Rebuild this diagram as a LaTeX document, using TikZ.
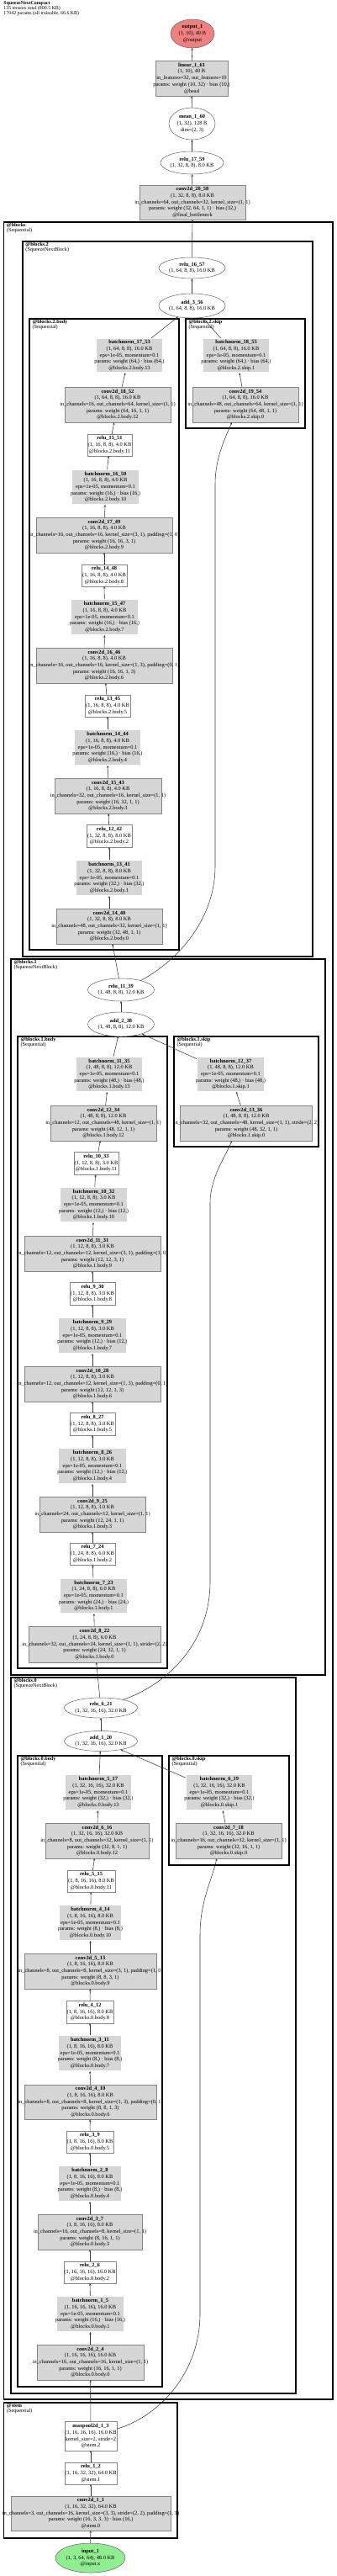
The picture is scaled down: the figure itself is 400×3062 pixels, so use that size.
\documentclass[tikz,border=0pt]{standalone}
\usepackage{fontspec}
\setmainfont{Liberation Serif}
\usetikzlibrary{shapes.geometric,arrows.meta,calc}
\definecolor{fgray}{HTML}{D6D6D6}
\definecolor{bgray}{HTML}{858585}
\definecolor{egray}{HTML}{3A3A3A}
\definecolor{ogray}{HTML}{606060}
\definecolor{outred}{HTML}{F08080}
\definecolor{ingreen}{HTML}{90EE90}
\newcommand\nodefont{\fontsize{6.4}{7.7}\selectfont}
\newcommand\clusterfont{\fontsize{6.2}{6.1}\selectfont}
\newcommand\headfont{\fontsize{5.9}{5.8}\selectfont}
\newcommand\zline[1]{\makebox[0pt]{#1}}
\newcommand\fivel[5]{\zline{\textbf{#1}}\\\zline{#2}\\\zline{#3}\\\zline{#4}\\\zline{#5}}
\newcommand\fourl[4]{\zline{\textbf{#1}}\\\zline{#2}\\\zline{#3}\\\zline{#4}}
\newcommand\threel[3]{\zline{\textbf{#1}}\\\zline{#2}\\\zline{#3}}
\newcommand\twol[2]{\zline{\textbf{#1}}\\\zline{#2}}
\newcommand\bnt[4]{\fivel{#1}{#2}{eps=1e-05, momentum=0.1}{params: weight #3 · bias #3}{#4}}
\tikzset{
  every node/.style={inner sep=0pt, outer sep=0pt, font=\nodefont, align=center},
  sz/.style 2 args={minimum width=#1, minimum height=#2},
  conv/.style={rectangle, draw=bgray, fill=fgray, line width=0.6pt},
  bn/.style={rectangle, draw=bgray, double=white, double distance=1.2pt, line width=0.5pt, fill=fgray},
  act/.style={rectangle, draw=bgray, fill=white, line width=0.6pt},
  oval/.style={ellipse, draw=ogray, fill=white, line width=0.5pt},
  cluster/.style={draw=black, line width=1.3pt},
  edge/.style={draw=egray, line width=0.55pt, -{Stealth[length=2.8pt,width=2.3pt]}},
  clabel/.style={anchor=north west, align=left, font=\clusterfont},
}
\begin{document}
\begin{tikzpicture}[x=1pt,y=-1pt]
\useasboundingbox (0,0) rectangle (400,3062);
\fill[white] (0,0) rectangle (400,3062);
% header
\node[anchor=north west, align=left, font=\headfont] (hdr) at (4.5,1.5) {\textbf{SqueezeNextCompact}\\135 tensors total (800.5 KB)\\17042 params (all trainable, 66.6 KB)};
% clusters
\draw[cluster] (4.5,264) rectangle (396,2852);
\node[clabel] (lblocks) at (8,265.5) {\textbf{@blocks}\\(Sequential)};
\draw[cluster] (27,287) rectangle (372,1137);
\node[clabel] (lb2) at (30.5,288.5) {\textbf{@blocks.2}\\(SqueezeNextBlock)};
\draw[cluster] (35,379) rectangle (213,1129);
\node[clabel] (lb2b) at (38.5,380.5) {\textbf{@blocks.2.body}\\(Sequential)};
\draw[cluster] (221,379) rectangle (363,509);
\node[clabel] (lb2s) at (224.5,380.5) {\textbf{@blocks.2.skip}\\(Sequential)};
\draw[cluster] (13,1140) rectangle (387,1991);
\node[clabel] (lb1) at (16.5,1141.5) {\textbf{@blocks.1}\\(SqueezeNextBlock)};
\draw[cluster] (21,1232) rectangle (199,1983);
\node[clabel] (lb1b) at (24.5,1233.5) {\textbf{@blocks.1.body}\\(Sequential)};
\draw[cluster] (207,1232) rectangle (379,1363);
\node[clabel] (lb1s) at (210.5,1233.5) {\textbf{@blocks.1.skip}\\(Sequential)};
\draw[cluster] (13,1994) rectangle (352,2845);
\node[clabel] (lb0) at (16.5,1995.5) {\textbf{@blocks.0}\\(SqueezeNextBlock)};
\draw[cluster] (21,2087) rectangle (193,2837);
\node[clabel] (lb0b) at (24.5,2088.5) {\textbf{@blocks.0.body}\\(Sequential)};
\draw[cluster] (201,2087) rectangle (344,2217);
\node[clabel] (lb0s) at (204.5,2088.5) {\textbf{@blocks.0.skip}\\(Sequential)};
\draw[cluster] (4.5,2856) rectangle (211,3017);
\node[clabel] (lstem) at (8,2857.5) {\textbf{@stem}\\(Sequential)};
% head
\node[oval, fill=outred, sz={52}{34}] (out1) at (229,40) {\threel{output\_1}{(1, 10), 40 B}{@output}};
\node[conv, sz={86}{42}] (lin161) at (228,93) {\fivel{linear\_1\_61}{(1, 10), 40 B}{in\_features=32, out\_features=10}{params: weight (10, 32) · bias (10,)}{@head}};
\node[oval, sz={55}{38}] (mean160) at (228.5,147) {\threel{mean\_1\_60}{(1, 32), 128 B}{dim=(2, 3)}};
\node[oval, sz={75}{27}] (r1759) at (228.5,193.5) {\twol{relu\_17\_59}{(1, 32, 8, 8), 8.0 KB}};
\node[conv, sz={126}{41}] (c2058) at (229,240.5) {\fivel{conv2d\_20\_58}{(1, 32, 8, 8), 8.0 KB}{in\_channels=64, out\_channels=32, kernel\_size=(1, 1)}{params: weight (32, 64, 1, 1) · bias (32,)}{@final\_bottleneck}};
% blocks.2
\node[oval, sz={79}{25}] (r1657) at (228.5,318.5) {\twol{relu\_16\_57}{(1, 64, 8, 8), 16.0 KB}};
\node[oval, sz={79}{29}] (add356) at (228.5,363.5) {\twol{add\_3\_56}{(1, 64, 8, 8), 16.0 KB}};
\node[bn, sz={80}{41}] (bn1753) at (154,422.5) {\bnt{batchnorm\_17\_53}{(1, 64, 8, 8), 16.0 KB}{(64,)}{@blocks.2.body.13}};
\node[bn, sz={80}{41}] (bn1855) at (281,422.5) {\bnt{batchnorm\_18\_55}{(1, 64, 8, 8), 16.0 KB}{(64,)}{@blocks.2.skip.1}};
\node[conv, sz={126}{42}] (c1852) at (140,481) {\fivel{conv2d\_18\_52}{(1, 64, 8, 8), 16.0 KB}{in\_channels=16, out\_channels=64, kernel\_size=(1, 1)}{params: weight (64, 16, 1, 1)}{@blocks.2.body.12}};
\node[conv, sz={126}{42}] (c1954) at (292,481) {\fivel{conv2d\_19\_54}{(1, 64, 8, 8), 16.0 KB}{in\_channels=48, out\_channels=64, kernel\_size=(1, 1)}{params: weight (64, 48, 1, 1)}{@blocks.2.skip.0}};
\node[act, sz={53}{26}] (r1551) at (130.5,529) {\threel{relu\_15\_51}{(1, 16, 8, 8), 4.0 KB}{@blocks.2.body.11}};
\node[bn, sz={81}{42}] (bn1650) at (125.5,579) {\bnt{batchnorm\_16\_50}{(1, 16, 8, 8), 4.0 KB}{(16,)}{@blocks.2.body.10}};
\node[conv, sz={162}{42}] (c1749) at (124,636) {\fivel{conv2d\_17\_49}{(1, 16, 8, 8), 4.0 KB}{in\_channels=16, out\_channels=16, kernel\_size=(3, 1), padding=(1, 0)}{params: weight (16, 16, 3, 1)}{@blocks.2.body.9}};
\node[act, sz={54}{26}] (r1448) at (124,684) {\threel{relu\_14\_48}{(1, 16, 8, 8), 4.0 KB}{@blocks.2.body.8}};
\node[bn, sz={81}{43}] (bn1547) at (124.5,733.5) {\bnt{batchnorm\_15\_47}{(1, 16, 8, 8), 4.0 KB}{(16,)}{@blocks.2.body.7}};
\node[conv, sz={162}{42}] (c1646) at (124,791) {\fivel{conv2d\_16\_46}{(1, 16, 8, 8), 4.0 KB}{in\_channels=16, out\_channels=16, kernel\_size=(1, 3), padding=(0, 1)}{params: weight (16, 16, 1, 3)}{@blocks.2.body.6}};
\node[act, sz={54}{26}] (r1345) at (128,839) {\threel{relu\_13\_45}{(1, 16, 8, 8), 4.0 KB}{@blocks.2.body.5}};
\node[bn, sz={80}{43}] (bn1444) at (128,888.5) {\bnt{batchnorm\_14\_44}{(1, 16, 8, 8), 4.0 KB}{(16,)}{@blocks.2.body.4}};
\node[conv, sz={127}{42}] (c1543) at (128.5,946) {\fivel{conv2d\_15\_43}{(1, 16, 8, 8), 4.0 KB}{in\_channels=32, out\_channels=16, kernel\_size=(1, 1)}{params: weight (16, 32, 1, 1)}{@blocks.2.body.3}};
\node[act, sz={54}{27}] (r1242) at (130,993.5) {\threel{relu\_12\_42}{(1, 32, 8, 8), 8.0 KB}{@blocks.2.body.2}};
\node[bn, sz={80}{43}] (bn1341) at (130,1043.5) {\bnt{batchnorm\_13\_41}{(1, 32, 8, 8), 8.0 KB}{(32,)}{@blocks.2.body.1}};
\node[conv, sz={126}{42}] (c1440) at (130,1101) {\fivel{conv2d\_14\_40}{(1, 32, 8, 8), 8.0 KB}{in\_channels=48, out\_channels=32, kernel\_size=(1, 1)}{params: weight (32, 48, 1, 1)}{@blocks.2.body.0}};
% blocks.1
\node[oval, sz={79}{27}] (r1139) at (144,1176.5) {\twol{relu\_11\_39}{(1, 48, 8, 8), 12.0 KB}};
\node[oval, sz={79}{29}] (add238) at (144,1217.5) {\twol{add\_2\_38}{(1, 48, 8, 8), 12.0 KB}};
\node[bn, sz={80}{42}] (bn1135) at (130,1277) {\bnt{batchnorm\_11\_35}{(1, 48, 8, 8), 12.0 KB}{(48,)}{@blocks.1.body.13}};
\node[bn, sz={81}{42}] (bn1237) at (274.5,1277) {\bnt{batchnorm\_12\_37}{(1, 48, 8, 8), 12.0 KB}{(48,)}{@blocks.1.skip.1}};
\node[conv, sz={126}{42}] (c1234) at (123,1335) {\fivel{conv2d\_12\_34}{(1, 48, 8, 8), 12.0 KB}{in\_channels=12, out\_channels=48, kernel\_size=(1, 1)}{params: weight (48, 12, 1, 1)}{@blocks.1.body.12}};
\node[conv, sz={157}{42}] (c1336) at (293,1335) {\fivel{conv2d\_13\_36}{(1, 48, 8, 8), 12.0 KB}{in\_channels=32, out\_channels=48, kernel\_size=(1, 1), stride=(2, 2)}{params: weight (48, 32, 1, 1)}{@blocks.1.skip.0}};
\node[act, sz={53}{27}] (r1033) at (114.5,1382.5) {\threel{relu\_10\_33}{(1, 12, 8, 8), 3.0 KB}{@blocks.1.body.11}};
\node[bn, sz={81}{42}] (bn1032) at (111.5,1432) {\bnt{batchnorm\_10\_32}{(1, 12, 8, 8), 3.0 KB}{(12,)}{@blocks.1.body.10}};
\node[conv, sz={162}{42}] (c1131) at (110,1490) {\fivel{conv2d\_11\_31}{(1, 12, 8, 8), 3.0 KB}{in\_channels=12, out\_channels=12, kernel\_size=(3, 1), padding=(1, 0)}{params: weight (12, 12, 3, 1)}{@blocks.1.body.9}};
\node[act, sz={54}{27}] (r930) at (110,1537.5) {\threel{relu\_9\_30}{(1, 12, 8, 8), 3.0 KB}{@blocks.1.body.8}};
\node[bn, sz={82}{43}] (bn929) at (110,1587.5) {\bnt{batchnorm\_9\_29}{(1, 12, 8, 8), 3.0 KB}{(12,)}{@blocks.1.body.7}};
\node[conv, sz={162}{42}] (c1028) at (110,1645) {\fivel{conv2d\_10\_28}{(1, 12, 8, 8), 3.0 KB}{in\_channels=12, out\_channels=12, kernel\_size=(1, 3), padding=(0, 1)}{params: weight (12, 12, 1, 3)}{@blocks.1.body.6}};
\node[act, sz={54}{27}] (r827) at (110,1692.5) {\threel{relu\_8\_27}{(1, 12, 8, 8), 3.0 KB}{@blocks.1.body.5}};
\node[bn, sz={82}{43}] (bn826) at (110,1742.5) {\bnt{batchnorm\_8\_26}{(1, 12, 8, 8), 3.0 KB}{(12,)}{@blocks.1.body.4}};
\node[conv, sz={126}{42}] (c925) at (110,1800) {\fivel{conv2d\_9\_25}{(1, 12, 8, 8), 3.0 KB}{in\_channels=24, out\_channels=12, kernel\_size=(1, 1)}{params: weight (12, 24, 1, 1)}{@blocks.1.body.3}};
\node[act, sz={54}{26}] (r724) at (110,1847) {\threel{relu\_7\_24}{(1, 24, 8, 8), 6.0 KB}{@blocks.1.body.2}};
\node[bn, sz={81}{42}] (bn723) at (111.5,1897) {\bnt{batchnorm\_7\_23}{(1, 24, 8, 8), 6.0 KB}{(24,)}{@blocks.1.body.1}};
\node[conv, sz={157}{43}] (c822) at (112.5,1954.5) {\fivel{conv2d\_8\_22}{(1, 24, 8, 8), 6.0 KB}{in\_channels=32, out\_channels=24, kernel\_size=(1, 1), stride=(2, 2)}{params: weight (24, 32, 1, 1)}{@blocks.1.body.0}};
% blocks.0
\node[oval, sz={87}{24}] (r621) at (120,2030) {\twol{relu\_6\_21}{(1, 32, 16, 16), 32.0 KB}};
\node[oval, sz={87}{24}] (add120) at (120,2069.5) {\twol{add\_1\_20}{(1, 32, 16, 16), 32.0 KB}};
\node[bn, sz={80}{43}] (bn517) at (117,2130.5) {\bnt{batchnorm\_5\_17}{(1, 32, 16, 16), 32.0 KB}{(32,)}{@blocks.0.body.13}};
\node[bn, sz={80}{43}] (bn619) at (261,2130.5) {\bnt{batchnorm\_6\_19}{(1, 32, 16, 16), 32.0 KB}{(32,)}{@blocks.0.skip.1}};
\node[conv, sz={123}{42}] (c616) at (115.5,2188) {\fivel{conv2d\_6\_16}{(1, 32, 16, 16), 32.0 KB}{in\_channels=8, out\_channels=32, kernel\_size=(1, 1)}{params: weight (32, 8, 1, 1)}{@blocks.0.body.12}};
\node[conv, sz={126}{42}] (c718) at (272,2188) {\fivel{conv2d\_7\_18}{(1, 32, 16, 16), 32.0 KB}{in\_channels=16, out\_channels=32, kernel\_size=(1, 1)}{params: weight (32, 16, 1, 1)}{@blocks.0.skip.0}};
\node[act, sz={57}{26}] (r515) at (108.5,2236) {\threel{relu\_5\_15}{(1, 8, 16, 16), 8.0 KB}{@blocks.0.body.11}};
\node[bn, sz={75}{43}] (bn414) at (107.5,2285.5) {\bnt{batchnorm\_4\_14}{(1, 8, 16, 16), 8.0 KB}{(8,)}{@blocks.0.body.10}};
\node[conv, sz={157}{42}] (c513) at (107.5,2343) {\fivel{conv2d\_5\_13}{(1, 8, 16, 16), 8.0 KB}{in\_channels=8, out\_channels=8, kernel\_size=(3, 1), padding=(1, 0)}{params: weight (8, 8, 3, 1)}{@blocks.0.body.9}};
\node[act, sz={56}{27}] (r412) at (107,2391.5) {\threel{relu\_4\_12}{(1, 8, 16, 16), 8.0 KB}{@blocks.0.body.8}};
\node[bn, sz={76}{43}] (bn311) at (107,2440.5) {\bnt{batchnorm\_3\_11}{(1, 8, 16, 16), 8.0 KB}{(8,)}{@blocks.0.body.7}};
\node[conv, sz={157}{41}] (c410) at (107.5,2498.5) {\fivel{conv2d\_4\_10}{(1, 8, 16, 16), 8.0 KB}{in\_channels=8, out\_channels=8, kernel\_size=(1, 3), padding=(0, 1)}{params: weight (8, 8, 1, 3)}{@blocks.0.body.6}};
\node[act, sz={56}{26}] (r39) at (107,2546) {\threel{relu\_3\_9}{(1, 8, 16, 16), 8.0 KB}{@blocks.0.body.5}};
\node[bn, sz={76}{43}] (bn28) at (107,2595.5) {\bnt{batchnorm\_2\_8}{(1, 8, 16, 16), 8.0 KB}{(8,)}{@blocks.0.body.4}};
\node[conv, sz={124}{42}] (c37) at (107,2653) {\fivel{conv2d\_3\_7}{(1, 8, 16, 16), 8.0 KB}{in\_channels=16, out\_channels=8, kernel\_size=(1, 1)}{params: weight (8, 16, 1, 1)}{@blocks.0.body.3}};
\node[act, sz={62}{26}] (r26) at (107,2701) {\threel{relu\_2\_6}{(1, 16, 16, 16), 16.0 KB}{@blocks.0.body.2}};
\node[bn, sz={81}{43}] (bn15) at (107.5,2750.5) {\bnt{batchnorm\_1\_5}{(1, 16, 16, 16), 16.0 KB}{(16,)}{@blocks.0.body.1}};
\node[conv, sz={127}{42}] (c24) at (107.5,2808) {\fivel{conv2d\_2\_4}{(1, 16, 16, 16), 16.0 KB}{in\_channels=16, out\_channels=16, kernel\_size=(1, 1)}{params: weight (16, 16, 1, 1)}{@blocks.0.body.0}};
% stem
\node[act, sz={62}{35}] (mp13) at (108,2895.5) {\fourl{maxpool2d\_1\_3}{(1, 16, 16, 16), 16.0 KB}{kernel\_size=2, stride=2}{@stem.2}};
\node[act, sz={62}{26}] (r12) at (108,2940) {\threel{relu\_1\_2}{(1, 16, 32, 32), 64.0 KB}{@stem.1}};
\node[conv, sz={190}{41}] (c11) at (108,2987.5) {\fivel{conv2d\_1\_1}{(1, 16, 32, 32), 64.0 KB}{in\_channels=3, out\_channels=16, kernel\_size=(3, 3), stride=(2, 2), padding=(1, 1)}{params: weight (16, 3, 3, 3) · bias (16,)}{@stem.0}};
\node[oval, fill=ingreen, sz={83}{35}] (in1) at (107.5,3040.5) {\threel{input\_1}{(1, 3, 64, 64), 48.0 KB}{@input.x}};
% edges: main chains
\foreach \a/\b in {in1/c11, c11/r12, r12/mp13, mp13/c24, c24/bn15, bn15/r26, r26/c37, c37/bn28, bn28/r39, r39/c410, c410/bn311, bn311/r412, r412/c513, c513/bn414, bn414/r515, r515/c616, c616/bn517, bn517/add120, c718/bn619, bn619/add120, add120/r621,
  r621/c822, c822/bn723, bn723/r724, r724/c925, c925/bn826, bn826/r827, r827/c1028, c1028/bn929, bn929/r930, r930/c1131, c1131/bn1032, bn1032/r1033, r1033/c1234, c1234/bn1135, bn1135/add238, c1336/bn1237, bn1237/add238, add238/r1139,
  r1139/c1440, c1440/bn1341, bn1341/r1242, r1242/c1543, c1543/bn1444, bn1444/r1345, r1345/c1646, c1646/bn1547, bn1547/r1448, r1448/c1749, c1749/bn1650, bn1650/r1551, r1551/c1852, c1852/bn1753, bn1753/add356, c1954/bn1855, bn1855/add356, add356/r1657,
  r1657/c2058, c2058/r1759, r1759/mean160, mean160/lin161, lin161/out1}
  \draw[edge] (\a) -- (\b);
% skip connections
\draw[edge] (mp13.15) .. controls (190,2872) and (238,2820) .. (238,2750) -- (238,2300) .. controls (238,2260) and (252,2235) .. ($(c718.south)+(-14,0)$);
\draw[edge] (r621.20) .. controls (197,2003) and (250,1955) .. (250,1880) -- (250,1430) .. controls (250,1400) and (268,1375) .. ($(c1336.south)+(-17,0)$);
\draw[edge] (r1139.25) .. controls (215,1140) and (256,1090) .. (256,1030) -- (256,575) .. controls (256,545) and (268,520) .. ($(c1954.south)+(-16,0)$);
\end{tikzpicture}
\end{document}
